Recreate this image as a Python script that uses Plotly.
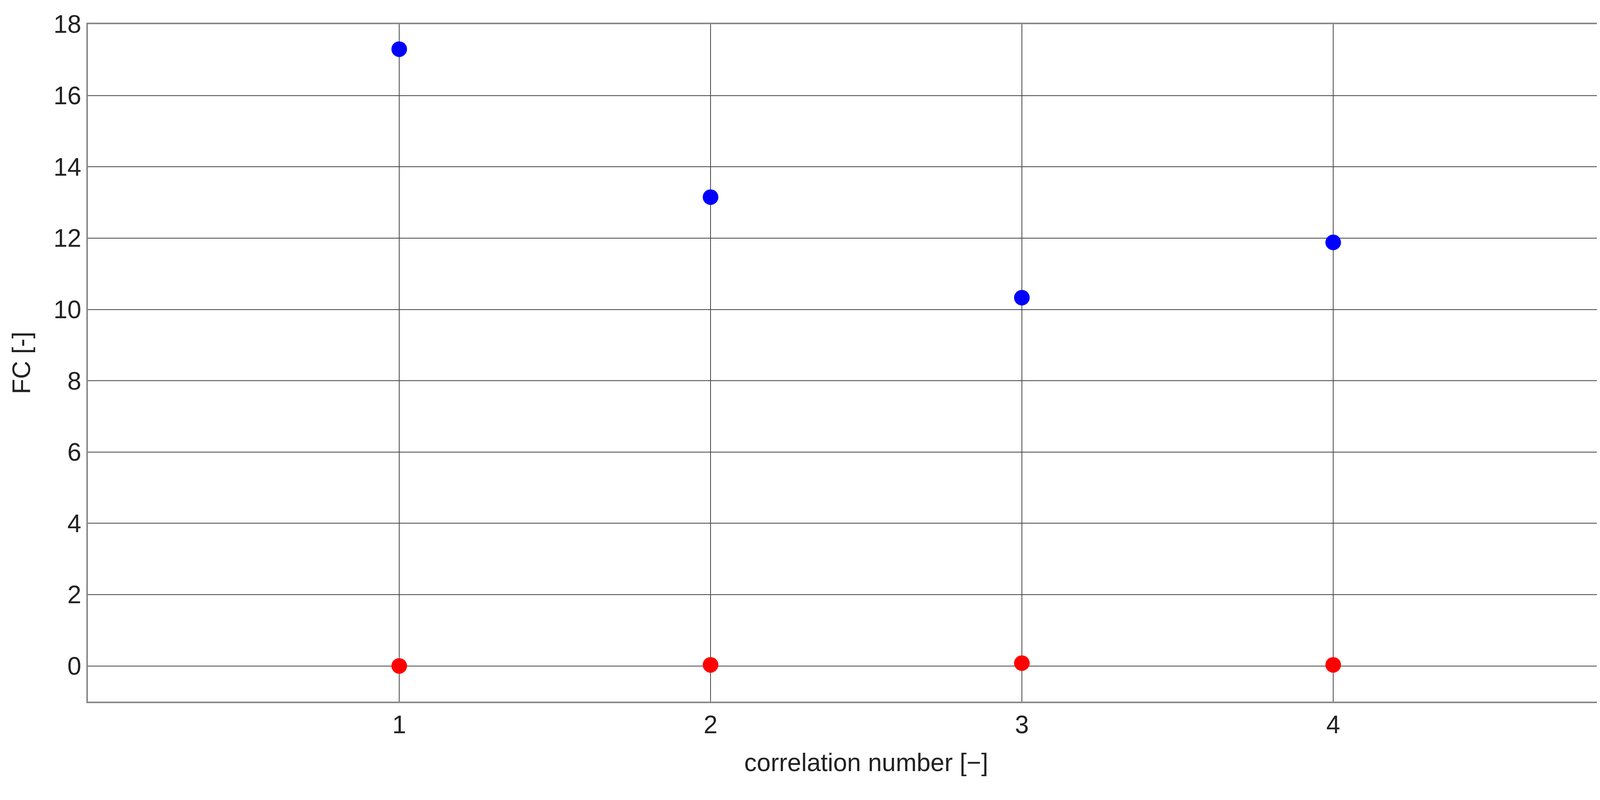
import plotly.graph_objects as go

# correlation numbers and FC values
corr_numbers = [1, 2, 3, 4]
fc_blue = [17.3, 13.15, 10.33, 11.88]
fc_red = [0.0, 0.03, 0.08, 0.03]

fig = go.Figure()
fig.add_trace(go.Scatter(x=corr_numbers, y=fc_blue, mode='markers',
                         marker=dict(color='#0000ff', size=40), showlegend=False))
fig.add_trace(go.Scatter(x=corr_numbers, y=fc_red, mode='markers',
                         marker=dict(color='#ff0000', size=40), showlegend=False))

axis_style = dict(showgrid=True, gridcolor='#444444', gridwidth=2,
                  showline=True, linecolor='#888888', linewidth=4, mirror=True,
                  ticks='inside', ticklen=14, tickcolor='#444444', zeroline=False,
                  tickfont=dict(size=64, color='#222222'))

fig.update_xaxes(range=[0, 5], tickvals=[1, 2, 3, 4],
                 title=dict(text='correlation number [\u2212]', font=dict(size=64, color='#222222'), standoff=40),
                 **axis_style)
fig.update_yaxes(range=[-1, 18], tickvals=list(range(0, 19, 2)),
                 title=dict(text='FC [-]', font=dict(size=64, color='#222222'), standoff=40),
                 **axis_style)

fig.update_layout(width=4251, height=2049, plot_bgcolor='white', paper_bgcolor='white',
                  font=dict(family='Liberation Sans'),
                  margin=dict(l=217, r=49, t=54, b=260))

fig.write_html("out.html")
